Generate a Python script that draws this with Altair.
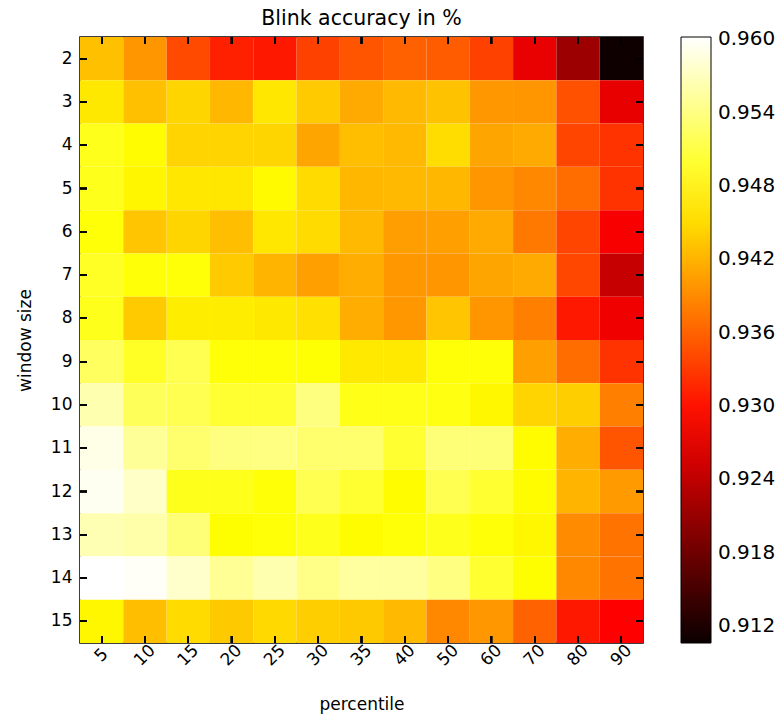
import altair as alt
import pandas as pd

percentiles = [5, 10, 15, 20, 25, 30, 35, 40, 50, 60, 70, 80, 90]
window_sizes = [2, 3, 4, 5, 6, 7, 8, 9, 10, 11, 12, 13, 14, 15]

# accuracy per window size (rows) and percentile (columns)
acc_w2 = [0.9429, 0.9398, 0.9342, 0.9311, 0.9305, 0.9335, 0.9350, 0.9358, 0.9355, 0.9335, 0.9271, 0.9214, 0.9108]
acc_w3 = [0.9459, 0.9429, 0.9445, 0.9423, 0.9458, 0.9437, 0.9413, 0.9424, 0.9431, 0.9400, 0.9398, 0.9347, 0.9270]
acc_w4 = [0.9490, 0.9473, 0.9444, 0.9444, 0.9445, 0.9409, 0.9428, 0.9424, 0.9451, 0.9409, 0.9413, 0.9338, 0.9325]
acc_w5 = [0.9490, 0.9469, 0.9458, 0.9458, 0.9472, 0.9449, 0.9423, 0.9424, 0.9423, 0.9398, 0.9388, 0.9368, 0.9325]
acc_w6 = [0.9480, 0.9433, 0.9445, 0.9428, 0.9458, 0.9449, 0.9424, 0.9404, 0.9405, 0.9413, 0.9377, 0.9338, 0.9282]
acc_w7 = [0.9495, 0.9480, 0.9480, 0.9437, 0.9421, 0.9405, 0.9415, 0.9400, 0.9398, 0.9409, 0.9413, 0.9340, 0.9245]
acc_w8 = [0.9490, 0.9437, 0.9463, 0.9463, 0.9459, 0.9453, 0.9415, 0.9400, 0.9433, 0.9398, 0.9382, 0.9305, 0.9277]
acc_w9 = [0.9523, 0.9495, 0.9516, 0.9480, 0.9480, 0.9478, 0.9460, 0.9460, 0.9480, 0.9480, 0.9405, 0.9368, 0.9325]
acc_w10 = [0.9563, 0.9520, 0.9516, 0.9500, 0.9500, 0.9539, 0.9488, 0.9488, 0.9485, 0.9470, 0.9444, 0.9440, 0.9382]
acc_w11 = [0.9590, 0.9551, 0.9530, 0.9539, 0.9540, 0.9530, 0.9530, 0.9500, 0.9535, 0.9535, 0.9474, 0.9415, 0.9350]
acc_w12 = [0.9595, 0.9575, 0.9490, 0.9490, 0.9480, 0.9516, 0.9500, 0.9474, 0.9516, 0.9500, 0.9474, 0.9421, 0.9401]
acc_w13 = [0.9565, 0.9560, 0.9535, 0.9475, 0.9480, 0.9490, 0.9474, 0.9480, 0.9490, 0.9480, 0.9470, 0.9390, 0.9372]
acc_w14 = [0.9602, 0.9598, 0.9577, 0.9550, 0.9563, 0.9543, 0.9555, 0.9555, 0.9540, 0.9500, 0.9475, 0.9388, 0.9372]
acc_w15 = [0.9470, 0.9428, 0.9449, 0.9436, 0.9448, 0.9440, 0.9436, 0.9424, 0.9388, 0.9400, 0.9360, 0.9305, 0.9287]

rows = [acc_w2, acc_w3, acc_w4, acc_w5, acc_w6, acc_w7, acc_w8,
        acc_w9, acc_w10, acc_w11, acc_w12, acc_w13, acc_w14, acc_w15]

colorbar_ticks = [0.912, 0.918, 0.924, 0.930, 0.936, 0.942, 0.948, 0.954, 0.960]

records = []
for w, row in zip(window_sizes, rows):
    for p, v in zip(percentiles, row):
        records.append({"percentile": p, "window size": w, "accuracy": v})
df = pd.DataFrame(records)

vmin, vmax = 0.9106, 0.9602
span = vmax - vmin
hot_domain = [vmin, vmin + 0.365 * span, vmin + 0.746 * span, vmax]
hot_range = ["#0b0000", "#ff0000", "#ffff00", "#ffffff"]
hot_scale = alt.Scale(domain=hot_domain, range=hot_range, interpolate="rgb")

FONT = "DejaVu Sans"
W, H = 563, 606
TICK = 7

band = alt.Scale(paddingInner=0, paddingOuter=0)

x_main = alt.X("percentile:O", sort=percentiles, scale=band,
               axis=alt.Axis(title="percentile", labelAngle=-45, labelAlign="center",
                             labelBaseline="middle", labelPadding=12, labelFontSize=17,
                             titleFontSize=17, titleFontWeight="normal", titlePadding=28,
                             ticks=False, domain=False,
                             labelColor="black", titleColor="black", labelFont=FONT, titleFont=FONT))
y_main = alt.Y("window size:O", sort=window_sizes, scale=band,
               axis=alt.Axis(title="window size", labelFontSize=17, titleFontSize=17,
                             titleFontWeight="normal", labelPadding=8, titlePadding=16,
                             ticks=False, domain=False,
                             labelColor="black", titleColor="black", labelFont=FONT, titleFont=FONT))

heat = alt.Chart(df).mark_rect().encode(
    x=x_main,
    y=y_main,
    color=alt.Color("accuracy:Q", scale=hot_scale,
                    legend=alt.Legend(title=None, values=colorbar_ticks, format=".3f",
                                      type="gradient",
                                      orient="none", legendX=601, legendY=0,
                                      gradientLength=606, gradientThickness=30,
                                      gradientStrokeColor="black", gradientStrokeWidth=1,
                                      labelFontSize=20, labelFont=FONT, labelColor="black",
                                      labelOffset=7, labelOverlap=False)),
)

x_pos = alt.X("percentile:O", sort=percentiles, scale=band)
y_pos = alt.Y("window size:O", sort=window_sizes, scale=band)

ticks_bottom = alt.Chart(df).mark_rule(stroke="black", strokeWidth=1.3).encode(
    x=x_pos, y=alt.value(H - TICK), y2=alt.value(H))
ticks_top = alt.Chart(df).mark_rule(stroke="black", strokeWidth=1.3).encode(
    x=x_pos, y=alt.value(0), y2=alt.value(TICK))
ticks_left = alt.Chart(df).mark_rule(stroke="black", strokeWidth=1.3).encode(
    y=y_pos, x=alt.value(0), x2=alt.value(TICK))
ticks_right = alt.Chart(df).mark_rule(stroke="black", strokeWidth=1.3).encode(
    y=y_pos, x=alt.value(W - TICK), x2=alt.value(W))

chart = alt.layer(heat, ticks_bottom, ticks_top, ticks_left, ticks_right).properties(
    width=W, height=H,
    title=alt.TitleParams("Blink accuracy in %", fontSize=20.5, font=FONT,
                          fontWeight="normal", color="black", offset=7),
    autosize=alt.AutoSizeParams(type="none"),
    padding={"left": 80, "top": 37, "right": 140, "bottom": 75},
).configure_view(stroke="black", strokeWidth=1.5)

chart.save("out.html", embed_options={"renderer": "svg", "actions": False})
